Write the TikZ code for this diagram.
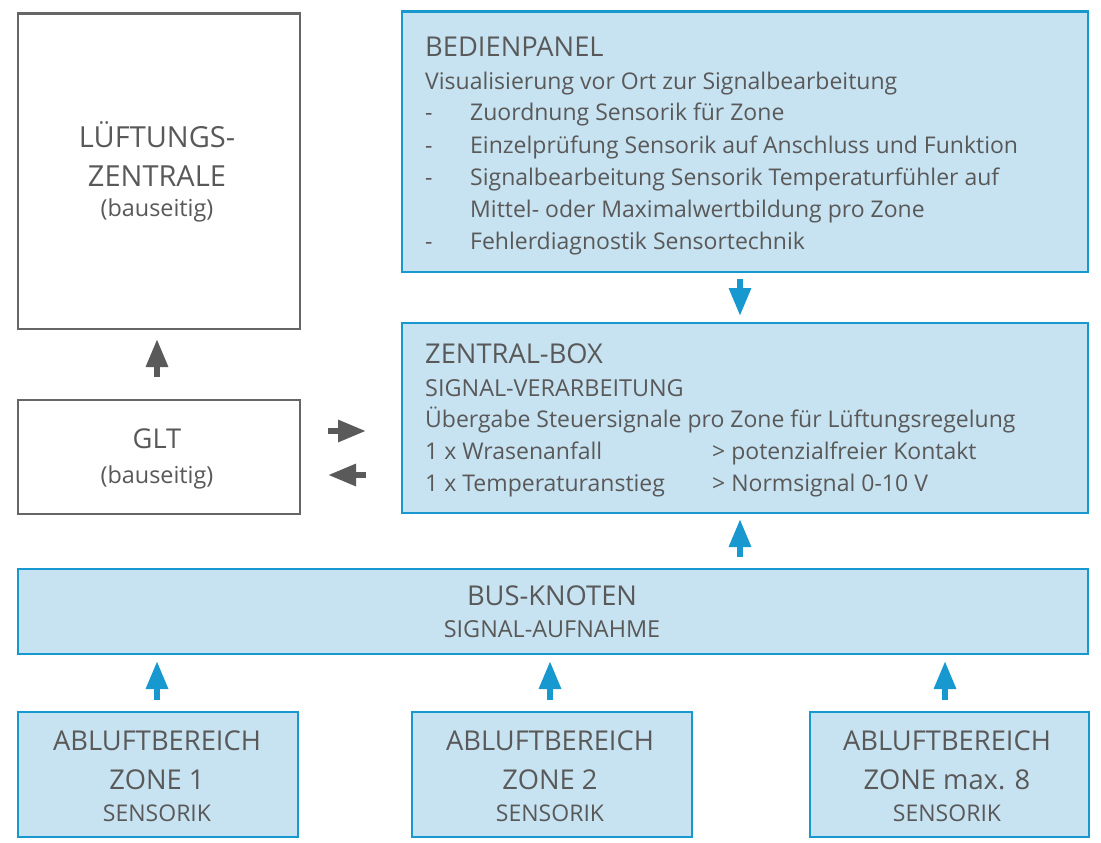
\documentclass[tikz,border=0pt]{standalone}
\usepackage{fontspec}
\setmainfont{Open Sans}
\usetikzlibrary{arrows.meta}
\definecolor{txtc}{HTML}{595959}
\definecolor{blc}{HTML}{1798CF}
\definecolor{fillc}{HTML}{C7E2F0}
\definecolor{grc}{HTML}{5A5A5A}
\definecolor{grb}{HTML}{666666}
\newcommand{\fH}{\fontsize{27.3}{30}\selectfont}
\newcommand{\fL}{\fontsize{29}{30}\selectfont}
\newcommand{\fB}{\fontsize{23}{28}\selectfont}
\newcommand{\fS}{\fontsize{23.4}{28}\selectfont}
\tikzset{
  bluebox/.style={draw=blc, fill=fillc, line width=2.8pt, anchor=north west, inner sep=0pt},
  graybox/.style={draw=grb, fill=white, line width=2.2pt, anchor=north west, inner sep=0pt},
  tl/.style={anchor=base west, inner sep=0pt, text=txtc},
  tc/.style={anchor=base, inner sep=0pt, text=txtc},
  barrow/.style={draw=blc, line width=6pt, -{Triangle[length=28pt,width=21pt]}},
  garrow/.style={draw=grc, line width=6pt, -{Triangle[length=28pt,width=21pt]}}
}
\begin{document}
\begin{tikzpicture}[x=1pt,y=-1pt]
\useasboundingbox (0,0) rectangle (1101,843);
% boxes
\node[graybox, minimum width=282pt, minimum height=315pt] (lz) at (16.5,12.5) {};
\node[bluebox, minimum width=686pt, minimum height=260pt] (bed) at (400.5,10.5) {};
\node[bluebox, minimum width=686pt, minimum height=190pt] (zb) at (400.5,321.5) {};
\node[graybox, minimum width=282pt, minimum height=114pt] (glt) at (16.5,398.5) {};
\node[bluebox, minimum width=1070pt, minimum height=85pt] (bus) at (16.5,567.5) {};
\node[bluebox, minimum width=280pt, minimum height=125pt] (z1) at (16.5,710.5) {};
\node[bluebox, minimum width=280pt, minimum height=125pt] (z2) at (410.5,710.5) {};
\node[bluebox, minimum width=279pt, minimum height=125pt] (z8) at (808.5,710.5) {};
% Bedienpanel text
\node[tl] (bt0) at (425,57) {\fH BEDIENPANEL};
\node[tl] (bt1) at (425,89) {\fB Visualisierung vor Ort zur Signalbearbeitung};
\node[tl] (bd1) at (425,121) {\fB -};
\node[tl] (bt2) at (470,121) {\fB Zuordnung Sensorik für Zone};
\node[tl] (bd2) at (425,153) {\fB -};
\node[tl] (bt3) at (470,153) {\fB Einzelprüfung Sensorik auf Anschluss und Funktion};
\node[tl] (bd3) at (425,185) {\fB -};
\node[tl] (bt4) at (470,185) {\fB Signalbearbeitung Sensorik Temperaturfühler auf};
\node[tl] (bt5) at (470,217) {\fB Mittel- oder Maximalwertbildung pro Zone};
\node[tl] (bd4) at (425,249) {\fB -};
\node[tl] (bt6) at (470,249) {\fB Fehlerdiagnostik Sensortechnik};
% Zentral-Box text
\node[tl] (zt0) at (425,363) {\fH ZENTRAL-BOX};
\node[tl] (zt1) at (425,396) {\fS SIGNAL-VERARBEITUNG};
\node[tl] (zt2) at (425,427) {\fB Übergabe Steuersignale pro Zone für Lüftungsregelung};
\node[tl] (zt3) at (425,459) {\fB 1 x Wrasenanfall};
\node[tl] (zt4) at (712,459) {\fB > potenzialfreier Kontakt};
\node[tl] (zt5) at (425,491) {\fB 1 x Temperaturanstieg};
\node[tl] (zt6) at (712,491) {\fB > Normsignal 0-10 V};
% Lüftungszentrale
\node[tc] (lt1) at (157,147) {\fL LÜFTUNGS-};
\node[tc] (lt2) at (157,186) {\fL ZENTRALE};
\node[tc] (lt3) at (157,216) {\fS (bauseitig)};
% GLT
\node[tc] (gt1) at (157,448) {\fH GLT};
\node[tc] (gt2) at (157,483) {\fS (bauseitig)};
% Bus
\node[tc] (bu1) at (552,605) {\fH BUS-KNOTEN};
\node[tc] (bu2) at (552,637) {\fS SIGNAL-AUFNAHME};
% Zones
\node[tc] (a1) at (157,750) {\fH ABLUFTBEREICH};
\node[tc] (b1) at (157,789) {\fH ZONE 1};
\node[tc] (c1) at (157,821) {\fB SENSORIK};
\node[tc] (a2) at (550,750) {\fH ABLUFTBEREICH};
\node[tc] (b2) at (550,789) {\fH ZONE 2};
\node[tc] (c2) at (550,821) {\fB SENSORIK};
\node[tc] (a8) at (947,750) {\fH ABLUFTBEREICH};
\node[tc] (b8) at (947,789) {\fH ZONE max. 8};
\node[tc] (c8) at (947,821) {\fB SENSORIK};
% arrow end coordinates
\coordinate (p1) at (740,279); \coordinate (p2) at (740,316);
\coordinate (p3) at (740,557); \coordinate (p4) at (740,519);
\coordinate (q1) at (157,700); \coordinate (q2) at (157,661);
\coordinate (q3) at (550,700); \coordinate (q4) at (550,661);
\coordinate (q5) at (945,700); \coordinate (q6) at (945,661);
\coordinate (g1) at (157,377); \coordinate (g2) at (157,339);
\coordinate (g3) at (328,431); \coordinate (g4) at (366,431);
\coordinate (g5) at (366,475); \coordinate (g6) at (328,475);
\draw[barrow] (p1) -- (p2);
\draw[barrow] (p3) -- (p4);
\draw[barrow] (q1) -- (q2);
\draw[barrow] (q3) -- (q4);
\draw[barrow] (q5) -- (q6);
\draw[garrow] (g1) -- (g2);
\draw[garrow] (g3) -- (g4);
\draw[garrow] (g5) -- (g6);
\end{tikzpicture}
\end{document}
